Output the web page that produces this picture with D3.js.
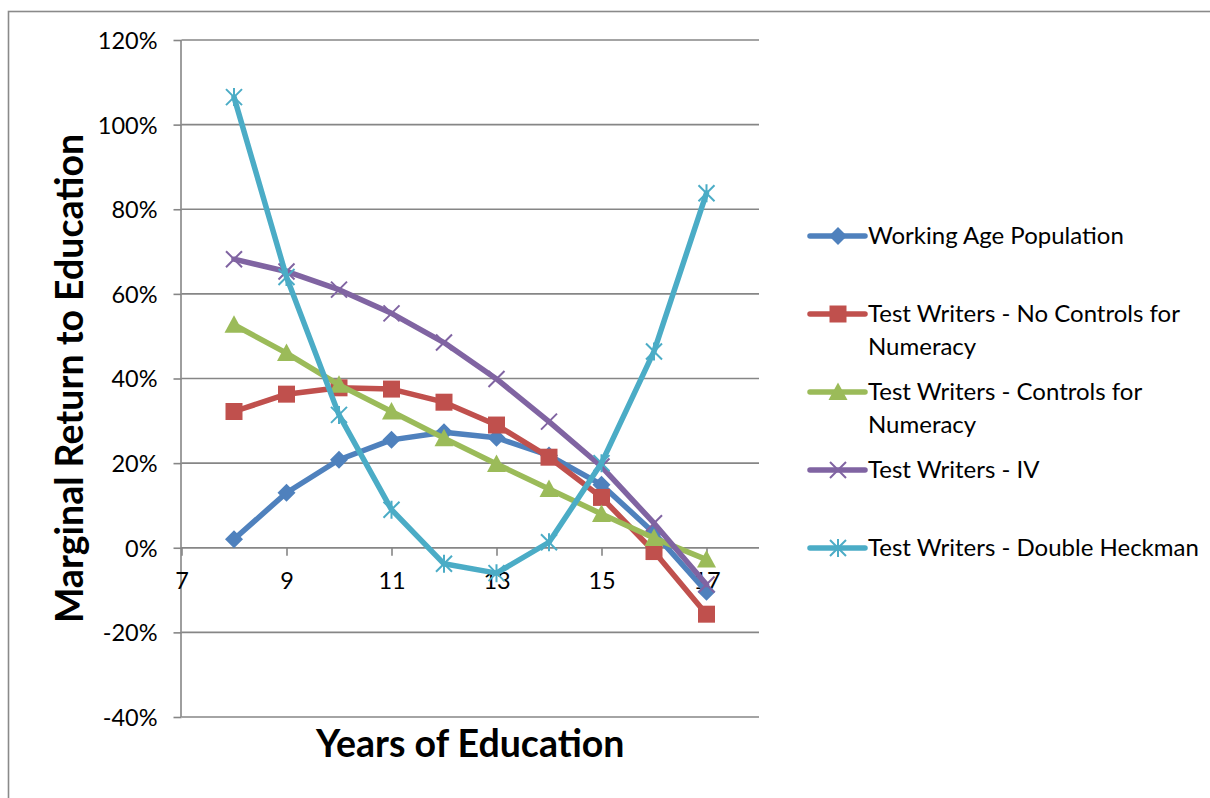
<!DOCTYPE html>
<html lang="en">
<head>
<meta charset="utf-8">
<title>Marginal Return to Education</title>
<script src="https://cdn.jsdelivr.net/npm/d3@7/dist/d3.min.js"></script>
<style>
  body { margin: 0; background: #fff; }
  text { font-family: Lato, "Open Sans", sans-serif; fill: #000; }
  .grid line { stroke: #868686; stroke-width: 1.6px; }
  .axis path, .axis line { stroke: #868686; stroke-width: 1.6px; }
  .axis text { font-size: 23.5px; }
  .title { font-weight: bold; font-size: 37.5px; }
  .legend text { font-size: 24px; }
</style>
</head>
<body>
<div id="chart"></div>
<script>
// chart values
var years = [8, 9, 10, 11, 12, 13, 14, 15, 16, 17];
var xTicks = [7, 9, 11, 13, 15, 17];
var yTicks = [-0.4, -0.2, 0, 0.2, 0.4, 0.6, 0.8, 1.0, 1.2];

var workingAge   = [0.020, 0.130, 0.208, 0.255, 0.273, 0.260, 0.218, 0.149, 0.035, -0.104];
var noControls   = [0.322, 0.363, 0.378, 0.375, 0.344, 0.290, 0.214, 0.119, -0.009, -0.157];
var withControls = [0.527, 0.460, 0.385, 0.322, 0.259, 0.198, 0.139, 0.080, 0.023, -0.028];
var ivValues     = [0.682, 0.653, 0.610, 0.554, 0.485, 0.399, 0.298, 0.192, 0.058, -0.087];
var heckman      = [1.065, 0.640, 0.314, 0.090, -0.038, -0.060, 0.013, 0.200, 0.464, 0.838];

var seriesNames = [
  "Working Age Population",
  "Test Writers - No Controls for Numeracy",
  "Test Writers - Controls for Numeracy",
  "Test Writers - IV",
  "Test Writers - Double Heckman"
];
var seriesValues = [workingAge, noControls, withControls, ivValues, heckman];
var colors = ["#4f81bd", "#c0504d", "#9bbb59", "#8064a2", "#4bacc6"];
var markers = ["diamond", "square", "triangle", "cross", "star"];

var W = 1210, H = 798;
var margin = { top: 40, left: 181.5 };
var width = 577.5, height = 677;

var svg = d3.select("#chart").append("svg")
  .attr("width", W)
  .attr("height", H);

// outer chart border (runs off the page at right and bottom)
svg.append("rect")
  .attr("x", 8.5).attr("y", 11.5)
  .attr("width", 1400).attr("height", 1000)
  .attr("fill", "none")
  .attr("stroke", "#8a8a8a")
  .attr("stroke-width", 1.6);

var g = svg.append("g")
  .attr("transform", "translate(" + margin.left + "," + margin.top + ")");

var x = d3.scaleLinear().domain([7, 18]).range([0, width]);
var y = d3.scaleLinear().domain([-0.4, 1.2]).range([height, 0]);

// horizontal gridlines
g.append("g").attr("class", "grid")
  .selectAll("line")
  .data(yTicks)
  .join("line")
  .attr("x1", 0).attr("x2", width)
  .attr("y1", function (d) { return y(d); })
  .attr("y2", function (d) { return y(d); });

// y axis, plain hyphen for negatives like the original
var pct = d3.format(".0%");
var yAxis = g.append("g").attr("class", "axis")
  .call(d3.axisLeft(y).tickValues(yTicks).tickSize(8).tickPadding(16)
    .tickFormat(function (d) { return pct(d).replace("\u2212", "-"); }));
yAxis.select(".domain").attr("d", "M-0.5," + height + "V0");
yAxis.selectAll("text").attr("dy", "0.36em");

// x axis crosses at zero
var xAxis = g.append("g").attr("class", "axis")
  .attr("transform", "translate(0," + y(0) + ")")
  .call(d3.axisBottom(x).tickValues(xTicks).tickSize(8).tickPadding(17)
    .tickFormat(d3.format("d")));
xAxis.select(".domain").attr("d", "M0,0H" + width);

// marker shapes
function markerPath(type) {
  var p = d3.path();
  if (type === "diamond") {
    p.moveTo(0, -9); p.lineTo(9, 0); p.lineTo(0, 9); p.lineTo(-9, 0); p.closePath();
  } else if (type === "square") {
    p.rect(-8.5, -8.5, 17, 17);
  } else if (type === "triangle") {
    p.moveTo(0, -9.5); p.lineTo(9.5, 8); p.lineTo(-9.5, 8); p.closePath();
  } else if (type === "cross") {
    p.moveTo(-8, -8); p.lineTo(8, 8); p.moveTo(-8, 8); p.lineTo(8, -8);
  } else {
    p.moveTo(-8, -8); p.lineTo(8, 8); p.moveTo(-8, 8); p.lineTo(8, -8);
    p.moveTo(0, -9); p.lineTo(0, 9);
  }
  return p.toString();
}
function drawMarker(sel, type, color) {
  sel.attr("d", markerPath(type));
  if (type === "cross" || type === "star") {
    sel.attr("fill", "none").attr("stroke", color).attr("stroke-width", 2);
  } else {
    sel.attr("fill", color).attr("stroke", "none");
  }
}

var line = d3.line()
  .x(function (d) { return x(d[0]); })
  .y(function (d) { return y(d[1]); });

seriesValues.forEach(function (vals, i) {
  var pts = years.map(function (yr, j) { return [yr, vals[j]]; });
  var sg = g.append("g");
  sg.append("path")
    .datum(pts)
    .attr("fill", "none")
    .attr("stroke", colors[i])
    .attr("stroke-width", 5.5)
    .attr("stroke-linejoin", "round")
    .attr("stroke-linecap", "round")
    .attr("d", line);
  sg.selectAll("path.m")
    .data(pts)
    .join("path")
    .attr("class", "m")
    .attr("transform", function (d) { return "translate(" + x(d[0]) + "," + y(d[1]) + ")"; })
    .call(drawMarker, markers[i], colors[i]);
});

// axis titles
svg.append("text").attr("class", "title")
  .attr("x", margin.left + width / 2)
  .attr("y", 757)
  .attr("text-anchor", "middle")
  .text("Years of Education");

svg.append("text").attr("class", "title")
  .attr("transform", "translate(83," + (margin.top + height / 2) + ") rotate(-90)")
  .attr("text-anchor", "middle")
  .text("Marginal Return to Education");

// legend
var legend = svg.append("g").attr("class", "legend");
var lx = 810, ly = 236, step = 78, maxText = 340;

seriesNames.forEach(function (name, i) {
  var item = legend.append("g").attr("transform", "translate(" + lx + "," + (ly + i * step) + ")");
  item.append("line")
    .attr("x1", 0).attr("x2", 55)
    .attr("stroke", colors[i]).attr("stroke-width", 5.5)
    .attr("stroke-linecap", "round");
  item.append("path")
    .attr("transform", "translate(28,0)")
    .call(drawMarker, markers[i], colors[i]);

  var txt = item.append("text").attr("x", 58).attr("y", 8);
  var words = name.split(" ");
  var tspan = txt.append("tspan").attr("x", 58);
  var cur = [];
  words.forEach(function (w) {
    cur.push(w);
    tspan.text(cur.join(" "));
    if (tspan.node().getComputedTextLength() > maxText && cur.length > 1) {
      cur.pop();
      tspan.text(cur.join(" "));
      cur = [w];
      tspan = txt.append("tspan").attr("x", 58).attr("dy", 33).text(w);
    }
  });
});
</script>
</body>
</html>
